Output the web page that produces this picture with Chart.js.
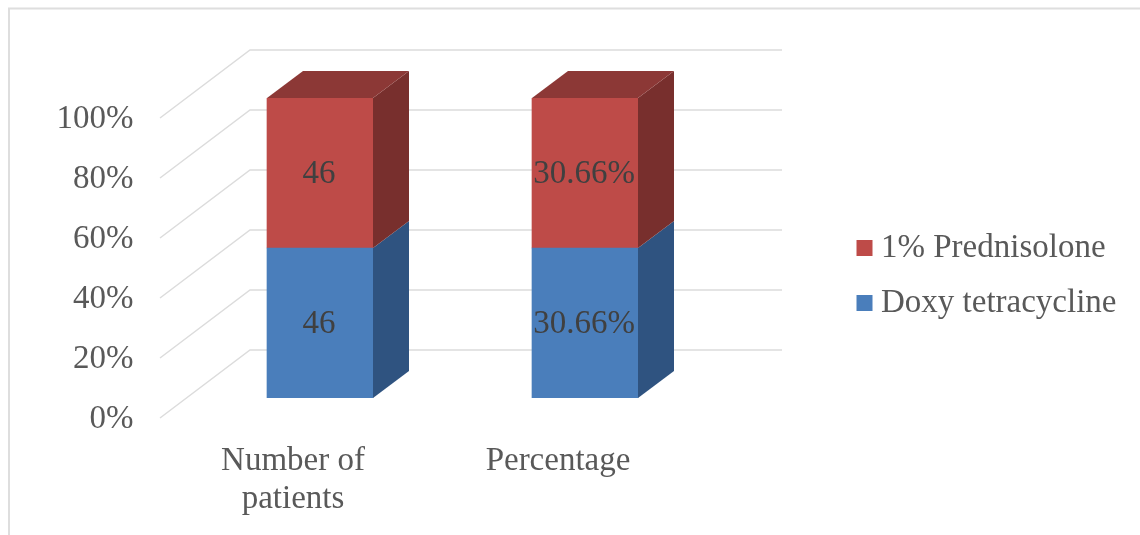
<!DOCTYPE html>
<html>
<head>
<meta charset="utf-8">
<style>
  body { margin: 0; background: #fff; }
</style>
<script src="https://cdn.jsdelivr.net/npm/chart.js@4"></script>
</head>
<body>
<canvas id="chart" width="1140" height="535"></canvas>
<script>
// Values
const categories = [['Number of', 'patients'], 'Percentage'];
const doxyValues = [46, 30.66];
const prednisoloneValues = [46, 30.66];
const doxyLabels = ['46', '30.66%'];
const prednisoloneLabels = ['46', '30.66%'];
const gridValues = [0, 20, 40, 60, 80, 100];

// 100% stacked, so each bar is the share of its own category
const share = (a, b) => a.map((v, i) => v / (v + b[i]) * 100);

const textColor = '#595959';
const fontName = '"Liberation Serif", serif';

// Fake 3D: side and top faces of the bars plus the floor/wall gridlines
const depth3d = {
  id: 'depth3d',
  beforeDraw(chart) {
    const ctx = chart.ctx;
    ctx.save();
    ctx.strokeStyle = '#DEDEDE';
    ctx.lineWidth = 2;
    ctx.beginPath();
    ctx.moveTo(9, 535);
    ctx.lineTo(9, 8.5);
    ctx.lineTo(1140, 8.5);
    ctx.stroke();
    ctx.restore();
  },
  beforeDatasetsDraw(chart) {
    const ctx = chart.ctx;
    const y = chart.scales.y;
    ctx.save();
    ctx.strokeStyle = '#DCDCDC';
    ctx.lineWidth = 1.5;
    gridValues.forEach(v => {
      const py = y.getPixelForValue(v);
      ctx.beginPath();
      ctx.moveTo(160, py + 20);
      ctx.lineTo(250, py - 48);
      ctx.lineTo(782, py - 48);
      ctx.stroke();
    });
    ctx.restore();
  },
  afterDatasetsDraw(chart) {
    const ctx = chart.ctx;
    const dx = 36, dy = 27;
    const sides = ['#2F5380', '#782F2D'];
    const tops = ['#2F5480', '#8C3836'];
    chart.data.datasets.forEach((ds, i) => {
      chart.getDatasetMeta(i).data.forEach(bar => {
        const right = bar.x + bar.width / 2;
        const left = bar.x - bar.width / 2;
        ctx.fillStyle = sides[i];
        ctx.beginPath();
        ctx.moveTo(right, bar.y);
        ctx.lineTo(right + dx, bar.y - dy);
        ctx.lineTo(right + dx, bar.base - dy);
        ctx.lineTo(right, bar.base);
        ctx.closePath();
        ctx.fill();
        if (i === chart.data.datasets.length - 1) {
          ctx.fillStyle = tops[i];
          ctx.beginPath();
          ctx.moveTo(left, bar.y);
          ctx.lineTo(left + dx, bar.y - dy);
          ctx.lineTo(right + dx, bar.y - dy);
          ctx.lineTo(right, bar.y);
          ctx.closePath();
          ctx.fill();
        }
      });
    });
  },
  afterDraw(chart) {
    // value labels in the middle of each front face
    const ctx = chart.ctx;
    ctx.save();
    ctx.fillStyle = '#404040';
    ctx.font = '33px ' + fontName;
    ctx.textAlign = 'center';
    ctx.textBaseline = 'middle';
    chart.data.datasets.forEach((ds, i) => {
      chart.getDatasetMeta(i).data.forEach((bar, j) => {
        ctx.fillText(ds.valueLabels[j], bar.x - 1, (bar.y + bar.base) / 2 + 1);
      });
    });
    ctx.restore();
  }
};

// The legend sits well right of the plot, so take it out of the layout width
const legendPlacer = {
  id: 'legendPlacer',
  beforeLayout(chart) {
    const legend = chart.legend;
    const fit = legend.fit;
    legend.fit = function() {
      fit.call(this);
      this.width = 0;
    };
  },
  afterLayout(chart) {
    const legend = chart.legend;
    legend.left = 842.5;
    legend.right = 1140;
    legend.top = 209.5;
    legend.bottom = 400;
  }
};

new Chart(document.getElementById('chart').getContext('2d'), {
  type: 'bar',
  data: {
    labels: categories,
    datasets: [
      {
        label: 'Doxy tetracycline',
        data: share(doxyValues, prednisoloneValues),
        valueLabels: doxyLabels,
        backgroundColor: '#4A7EBB',
        barThickness: 106
      },
      {
        label: '1% Prednisolone',
        data: share(prednisoloneValues, doxyValues),
        valueLabels: prednisoloneLabels,
        backgroundColor: '#BE4B48',
        barThickness: 106
      }
    ]
  },
  options: {
    responsive: false,
    animation: false,
    layout: {
      padding: { left: 0, top: 98, right: 422.5, bottom: 0 }
    },
    scales: {
      x: {
        stacked: true,
        grid: { display: false, drawTicks: false },
        border: { display: false },
        afterFit: scale => { scale.height = 137; },
        ticks: {
          autoSkip: false,
          maxRotation: 0,
          labelOffset: -27,
          padding: 44,
          color: textColor,
          font: { family: fontName, size: 33, lineHeight: 1.15 }
        }
      },
      y: {
        stacked: true,
        min: 0,
        max: 100,
        grid: { display: false, drawTicks: false },
        border: { display: false },
        afterFit: scale => { scale.width = 187.5; },
        ticks: {
          stepSize: 20,
          labelOffset: 21,
          padding: 54,
          color: textColor,
          font: { family: fontName, size: 33 },
          callback: v => v + '%'
        }
      }
    },
    plugins: {
      tooltip: { enabled: false },
      legend: {
        position: 'right',
        align: 'start',
        reverse: true,
        labels: {
          usePointStyle: true,
          pointStyle: 'rect',
          boxWidth: 0.01,
          boxHeight: 16,
          padding: 22,
          color: textColor,
          font: { family: fontName, size: 33 }
        }
      }
    }
  },
  plugins: [depth3d, legendPlacer]
});
</script>
</body>
</html>
